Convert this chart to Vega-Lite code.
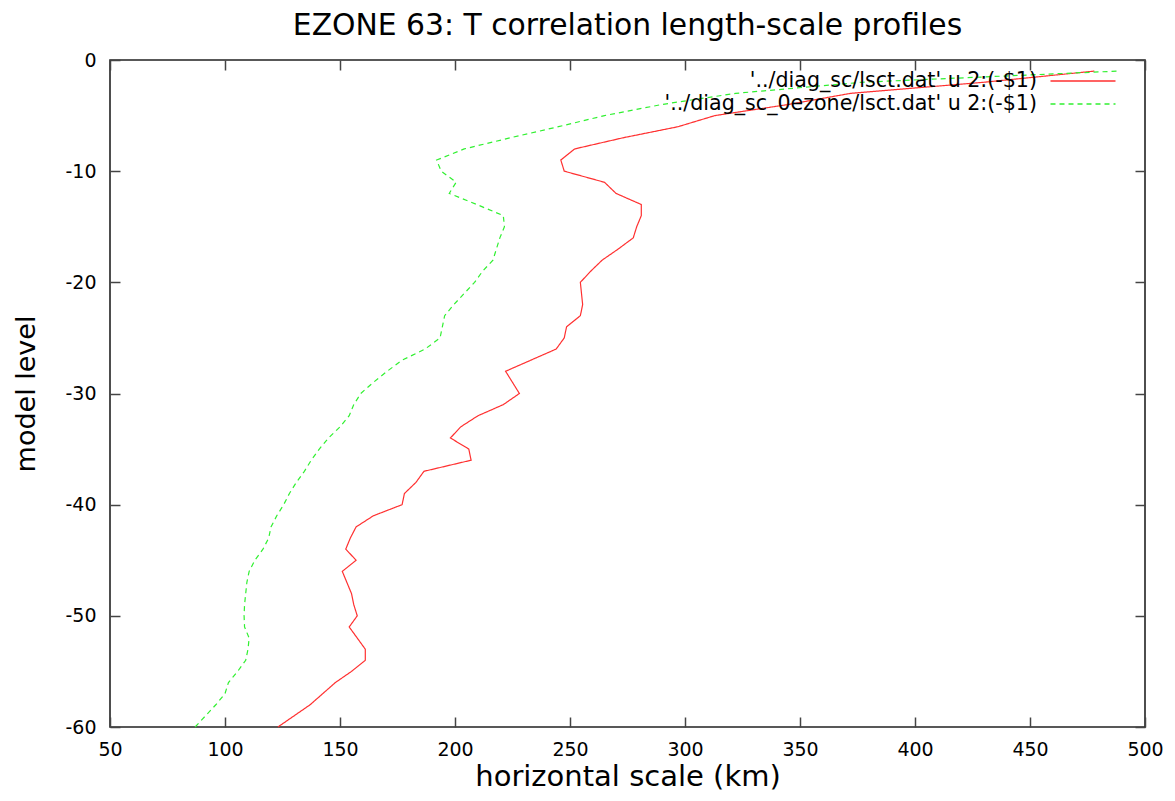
{
  "$schema": "https://vega.github.io/schema/vega-lite/v6.json",
  "width": 1035,
  "height": 667,
  "autosize": {"type": "none"},
  "padding": {"left": 110, "top": 60, "right": 30, "bottom": 74},
  "background": "white",
  "title": {"text": "EZONE 63: T correlation length-scale profiles", "fontSize": 29.8, "font": "DejaVu Sans", "fontWeight": "normal", "anchor": "middle", "offset": 10, "color": "black"},
  "config": {
    "view": {"stroke": "#222", "strokeWidth": 1.6},
    "legend": {"padding": 0, "labelFontSize": 20.6, "labelFont": "DejaVu Sans", "labelColor": "black", "labelAlign": "right", "labelOffset": -57, "labelLimit": 600, "symbolType": "M-3.25,0H3.25", "symbolSize": 400, "symbolOffset": 39, "symbolStrokeWidth": 1.3, "rowPadding": 1}
  },
  "datasets": {
    "profiles": [
      {"series": "'../diag_sc/lsct.dat' u 2:(-$1)", "level": -1, "km": 478},
      {"series": "'../diag_sc/lsct.dat' u 2:(-$1)", "level": -2, "km": 430},
      {"series": "'../diag_sc/lsct.dat' u 2:(-$1)", "level": -3, "km": 372},
      {"series": "'../diag_sc/lsct.dat' u 2:(-$1)", "level": -4, "km": 345},
      {"series": "'../diag_sc/lsct.dat' u 2:(-$1)", "level": -5, "km": 313},
      {"series": "'../diag_sc/lsct.dat' u 2:(-$1)", "level": -6, "km": 297},
      {"series": "'../diag_sc/lsct.dat' u 2:(-$1)", "level": -7, "km": 273},
      {"series": "'../diag_sc/lsct.dat' u 2:(-$1)", "level": -8, "km": 252},
      {"series": "'../diag_sc/lsct.dat' u 2:(-$1)", "level": -9, "km": 246},
      {"series": "'../diag_sc/lsct.dat' u 2:(-$1)", "level": -10, "km": 247.5},
      {"series": "'../diag_sc/lsct.dat' u 2:(-$1)", "level": -11, "km": 265},
      {"series": "'../diag_sc/lsct.dat' u 2:(-$1)", "level": -12, "km": 270},
      {"series": "'../diag_sc/lsct.dat' u 2:(-$1)", "level": -13, "km": 281},
      {"series": "'../diag_sc/lsct.dat' u 2:(-$1)", "level": -14, "km": 281},
      {"series": "'../diag_sc/lsct.dat' u 2:(-$1)", "level": -15, "km": 279},
      {"series": "'../diag_sc/lsct.dat' u 2:(-$1)", "level": -16, "km": 277.5},
      {"series": "'../diag_sc/lsct.dat' u 2:(-$1)", "level": -17, "km": 271},
      {"series": "'../diag_sc/lsct.dat' u 2:(-$1)", "level": -18, "km": 264},
      {"series": "'../diag_sc/lsct.dat' u 2:(-$1)", "level": -19, "km": 259},
      {"series": "'../diag_sc/lsct.dat' u 2:(-$1)", "level": -20, "km": 254.5},
      {"series": "'../diag_sc/lsct.dat' u 2:(-$1)", "level": -21, "km": 255},
      {"series": "'../diag_sc/lsct.dat' u 2:(-$1)", "level": -22, "km": 255.5},
      {"series": "'../diag_sc/lsct.dat' u 2:(-$1)", "level": -23, "km": 254.5},
      {"series": "'../diag_sc/lsct.dat' u 2:(-$1)", "level": -24, "km": 248.5},
      {"series": "'../diag_sc/lsct.dat' u 2:(-$1)", "level": -25, "km": 247.5},
      {"series": "'../diag_sc/lsct.dat' u 2:(-$1)", "level": -26, "km": 244},
      {"series": "'../diag_sc/lsct.dat' u 2:(-$1)", "level": -27, "km": 233},
      {"series": "'../diag_sc/lsct.dat' u 2:(-$1)", "level": -28, "km": 222},
      {"series": "'../diag_sc/lsct.dat' u 2:(-$1)", "level": -29, "km": 225},
      {"series": "'../diag_sc/lsct.dat' u 2:(-$1)", "level": -30, "km": 228},
      {"series": "'../diag_sc/lsct.dat' u 2:(-$1)", "level": -31, "km": 221},
      {"series": "'../diag_sc/lsct.dat' u 2:(-$1)", "level": -32, "km": 210},
      {"series": "'../diag_sc/lsct.dat' u 2:(-$1)", "level": -33, "km": 202.5},
      {"series": "'../diag_sc/lsct.dat' u 2:(-$1)", "level": -34, "km": 198},
      {"series": "'../diag_sc/lsct.dat' u 2:(-$1)", "level": -35, "km": 206},
      {"series": "'../diag_sc/lsct.dat' u 2:(-$1)", "level": -36, "km": 207},
      {"series": "'../diag_sc/lsct.dat' u 2:(-$1)", "level": -37, "km": 186.5},
      {"series": "'../diag_sc/lsct.dat' u 2:(-$1)", "level": -38, "km": 183},
      {"series": "'../diag_sc/lsct.dat' u 2:(-$1)", "level": -39, "km": 178},
      {"series": "'../diag_sc/lsct.dat' u 2:(-$1)", "level": -40, "km": 177},
      {"series": "'../diag_sc/lsct.dat' u 2:(-$1)", "level": -41, "km": 164.5},
      {"series": "'../diag_sc/lsct.dat' u 2:(-$1)", "level": -42, "km": 157},
      {"series": "'../diag_sc/lsct.dat' u 2:(-$1)", "level": -43, "km": 154.5},
      {"series": "'../diag_sc/lsct.dat' u 2:(-$1)", "level": -44, "km": 152.5},
      {"series": "'../diag_sc/lsct.dat' u 2:(-$1)", "level": -45, "km": 157},
      {"series": "'../diag_sc/lsct.dat' u 2:(-$1)", "level": -46, "km": 151},
      {"series": "'../diag_sc/lsct.dat' u 2:(-$1)", "level": -47, "km": 153},
      {"series": "'../diag_sc/lsct.dat' u 2:(-$1)", "level": -48, "km": 155},
      {"series": "'../diag_sc/lsct.dat' u 2:(-$1)", "level": -49, "km": 156},
      {"series": "'../diag_sc/lsct.dat' u 2:(-$1)", "level": -50, "km": 157.5},
      {"series": "'../diag_sc/lsct.dat' u 2:(-$1)", "level": -51, "km": 154},
      {"series": "'../diag_sc/lsct.dat' u 2:(-$1)", "level": -52, "km": 157.5},
      {"series": "'../diag_sc/lsct.dat' u 2:(-$1)", "level": -53, "km": 161},
      {"series": "'../diag_sc/lsct.dat' u 2:(-$1)", "level": -54, "km": 161},
      {"series": "'../diag_sc/lsct.dat' u 2:(-$1)", "level": -55, "km": 155},
      {"series": "'../diag_sc/lsct.dat' u 2:(-$1)", "level": -56, "km": 148},
      {"series": "'../diag_sc/lsct.dat' u 2:(-$1)", "level": -57, "km": 142.5},
      {"series": "'../diag_sc/lsct.dat' u 2:(-$1)", "level": -58, "km": 137},
      {"series": "'../diag_sc/lsct.dat' u 2:(-$1)", "level": -59, "km": 130},
      {"series": "'../diag_sc/lsct.dat' u 2:(-$1)", "level": -60, "km": 123},
      {"series": "'../diag_sc_0ezone/lsct.dat' u 2:(-$1)", "level": -1, "km": 488},
      {"series": "'../diag_sc_0ezone/lsct.dat' u 2:(-$1)", "level": -2, "km": 377},
      {"series": "'../diag_sc_0ezone/lsct.dat' u 2:(-$1)", "level": -3, "km": 322},
      {"series": "'../diag_sc_0ezone/lsct.dat' u 2:(-$1)", "level": -4, "km": 290},
      {"series": "'../diag_sc_0ezone/lsct.dat' u 2:(-$1)", "level": -5, "km": 265},
      {"series": "'../diag_sc_0ezone/lsct.dat' u 2:(-$1)", "level": -6, "km": 245},
      {"series": "'../diag_sc_0ezone/lsct.dat' u 2:(-$1)", "level": -7, "km": 224},
      {"series": "'../diag_sc_0ezone/lsct.dat' u 2:(-$1)", "level": -8, "km": 204},
      {"series": "'../diag_sc_0ezone/lsct.dat' u 2:(-$1)", "level": -9, "km": 192},
      {"series": "'../diag_sc_0ezone/lsct.dat' u 2:(-$1)", "level": -10, "km": 194},
      {"series": "'../diag_sc_0ezone/lsct.dat' u 2:(-$1)", "level": -11, "km": 200.5},
      {"series": "'../diag_sc_0ezone/lsct.dat' u 2:(-$1)", "level": -12, "km": 197.5},
      {"series": "'../diag_sc_0ezone/lsct.dat' u 2:(-$1)", "level": -13, "km": 209.5},
      {"series": "'../diag_sc_0ezone/lsct.dat' u 2:(-$1)", "level": -14, "km": 221},
      {"series": "'../diag_sc_0ezone/lsct.dat' u 2:(-$1)", "level": -15, "km": 221.5},
      {"series": "'../diag_sc_0ezone/lsct.dat' u 2:(-$1)", "level": -16, "km": 219.5},
      {"series": "'../diag_sc_0ezone/lsct.dat' u 2:(-$1)", "level": -17, "km": 218},
      {"series": "'../diag_sc_0ezone/lsct.dat' u 2:(-$1)", "level": -18, "km": 216.5},
      {"series": "'../diag_sc_0ezone/lsct.dat' u 2:(-$1)", "level": -19, "km": 212},
      {"series": "'../diag_sc_0ezone/lsct.dat' u 2:(-$1)", "level": -20, "km": 208.5},
      {"series": "'../diag_sc_0ezone/lsct.dat' u 2:(-$1)", "level": -21, "km": 204},
      {"series": "'../diag_sc_0ezone/lsct.dat' u 2:(-$1)", "level": -22, "km": 199.5},
      {"series": "'../diag_sc_0ezone/lsct.dat' u 2:(-$1)", "level": -23, "km": 195.5},
      {"series": "'../diag_sc_0ezone/lsct.dat' u 2:(-$1)", "level": -24, "km": 194.5},
      {"series": "'../diag_sc_0ezone/lsct.dat' u 2:(-$1)", "level": -25, "km": 193.5},
      {"series": "'../diag_sc_0ezone/lsct.dat' u 2:(-$1)", "level": -26, "km": 187},
      {"series": "'../diag_sc_0ezone/lsct.dat' u 2:(-$1)", "level": -27, "km": 177},
      {"series": "'../diag_sc_0ezone/lsct.dat' u 2:(-$1)", "level": -28, "km": 170.5},
      {"series": "'../diag_sc_0ezone/lsct.dat' u 2:(-$1)", "level": -29, "km": 164.5},
      {"series": "'../diag_sc_0ezone/lsct.dat' u 2:(-$1)", "level": -30, "km": 159},
      {"series": "'../diag_sc_0ezone/lsct.dat' u 2:(-$1)", "level": -31, "km": 156},
      {"series": "'../diag_sc_0ezone/lsct.dat' u 2:(-$1)", "level": -32, "km": 154},
      {"series": "'../diag_sc_0ezone/lsct.dat' u 2:(-$1)", "level": -33, "km": 150},
      {"series": "'../diag_sc_0ezone/lsct.dat' u 2:(-$1)", "level": -34, "km": 145},
      {"series": "'../diag_sc_0ezone/lsct.dat' u 2:(-$1)", "level": -35, "km": 141},
      {"series": "'../diag_sc_0ezone/lsct.dat' u 2:(-$1)", "level": -36, "km": 137.5},
      {"series": "'../diag_sc_0ezone/lsct.dat' u 2:(-$1)", "level": -37, "km": 134.5},
      {"series": "'../diag_sc_0ezone/lsct.dat' u 2:(-$1)", "level": -38, "km": 131},
      {"series": "'../diag_sc_0ezone/lsct.dat' u 2:(-$1)", "level": -39, "km": 128},
      {"series": "'../diag_sc_0ezone/lsct.dat' u 2:(-$1)", "level": -40, "km": 125.5},
      {"series": "'../diag_sc_0ezone/lsct.dat' u 2:(-$1)", "level": -41, "km": 122.5},
      {"series": "'../diag_sc_0ezone/lsct.dat' u 2:(-$1)", "level": -42, "km": 120},
      {"series": "'../diag_sc_0ezone/lsct.dat' u 2:(-$1)", "level": -43, "km": 119},
      {"series": "'../diag_sc_0ezone/lsct.dat' u 2:(-$1)", "level": -44, "km": 116.5},
      {"series": "'../diag_sc_0ezone/lsct.dat' u 2:(-$1)", "level": -45, "km": 113},
      {"series": "'../diag_sc_0ezone/lsct.dat' u 2:(-$1)", "level": -46, "km": 110.5},
      {"series": "'../diag_sc_0ezone/lsct.dat' u 2:(-$1)", "level": -47, "km": 109.5},
      {"series": "'../diag_sc_0ezone/lsct.dat' u 2:(-$1)", "level": -48, "km": 109},
      {"series": "'../diag_sc_0ezone/lsct.dat' u 2:(-$1)", "level": -49, "km": 108.5},
      {"series": "'../diag_sc_0ezone/lsct.dat' u 2:(-$1)", "level": -50, "km": 108.3},
      {"series": "'../diag_sc_0ezone/lsct.dat' u 2:(-$1)", "level": -51, "km": 108.5},
      {"series": "'../diag_sc_0ezone/lsct.dat' u 2:(-$1)", "level": -52, "km": 110.5},
      {"series": "'../diag_sc_0ezone/lsct.dat' u 2:(-$1)", "level": -53, "km": 110},
      {"series": "'../diag_sc_0ezone/lsct.dat' u 2:(-$1)", "level": -54, "km": 109},
      {"series": "'../diag_sc_0ezone/lsct.dat' u 2:(-$1)", "level": -55, "km": 105.5},
      {"series": "'../diag_sc_0ezone/lsct.dat' u 2:(-$1)", "level": -56, "km": 101.5},
      {"series": "'../diag_sc_0ezone/lsct.dat' u 2:(-$1)", "level": -57, "km": 100},
      {"series": "'../diag_sc_0ezone/lsct.dat' u 2:(-$1)", "level": -58, "km": 96},
      {"series": "'../diag_sc_0ezone/lsct.dat' u 2:(-$1)", "level": -59, "km": 91.5},
      {"series": "'../diag_sc_0ezone/lsct.dat' u 2:(-$1)", "level": -60, "km": 87}
    ]
  },
  "data": {"name": "profiles"},
  "layer": [
    {
      "mark": {"type": "line", "strokeWidth": 1.2},
      "encoding": {
        "x": {"field": "km", "type": "quantitative", "scale": {"domain": [50, 500], "nice": false, "zero": false},
          "axis": {"orient": "bottom", "values": [50, 100, 150, 200, 250, 300, 350, 400, 450, 500], "domain": false, "grid": false, "tickSize": -10, "tickWidth": 1.5, "tickColor": "#444", "labelPadding": 23, "labelFontSize": 19, "labelFont": "DejaVu Sans", "labelColor": "black", "labelFlush": false, "labelOverlap": false, "labelExpr": "toString(datum.value)",
            "title": "horizontal scale (km)", "titleFontSize": 29, "titleFont": "DejaVu Sans", "titleFontWeight": "normal", "titleColor": "black", "titlePadding": 3}},
        "y": {"field": "level", "type": "quantitative", "scale": {"domain": [-60, 0], "nice": false, "zero": false},
          "axis": {"orient": "left", "values": [-60, -50, -40, -30, -20, -10, 0], "domain": false, "grid": false, "tickSize": -10, "tickWidth": 1.5, "tickColor": "#444", "labelPadding": 24, "labelFontSize": 19, "labelFont": "DejaVu Sans", "labelColor": "black", "labelFlush": false, "labelOverlap": false, "labelExpr": "toString(datum.value)",
            "title": "model level", "titleFontSize": 27, "titleFont": "DejaVu Sans", "titleFontWeight": "normal", "titleColor": "black", "titlePadding": 24}},
        "color": {"field": "series", "type": "nominal",
          "scale": {"domain": ["'../diag_sc/lsct.dat' u 2:(-$1)", "'../diag_sc_0ezone/lsct.dat' u 2:(-$1)"], "range": ["#ff3030", "#30f030"]},
          "legend": {"title": null, "orient": "none", "legendX": 923, "legendY": 10}},
        "strokeDash": {"field": "series", "type": "nominal",
          "scale": {"domain": ["'../diag_sc/lsct.dat' u 2:(-$1)", "'../diag_sc_0ezone/lsct.dat' u 2:(-$1)"], "range": [[1, 0], [5, 4]]},
          "legend": {"title": null, "orient": "none", "legendX": 923, "legendY": 10}},
        "order": {"field": "level", "type": "quantitative"}
      }
    },
    {
      "mark": {"type": "point", "opacity": 0},
      "encoding": {
        "x": {"field": "km", "type": "quantitative",
          "axis": {"orient": "top", "values": [50, 100, 150, 200, 250, 300, 350, 400, 450, 500], "domain": false, "grid": false, "tickSize": -10, "tickWidth": 1.5, "tickColor": "#444", "labels": false, "title": null}},
        "y": {"field": "level", "type": "quantitative",
          "axis": {"orient": "right", "values": [-60, -50, -40, -30, -20, -10, 0], "domain": false, "grid": false, "tickSize": -10, "tickWidth": 1.5, "tickColor": "#444", "labels": false, "title": null}}
      }
    }
  ],
  "resolve": {"axis": {"x": "independent", "y": "independent"}}
}
